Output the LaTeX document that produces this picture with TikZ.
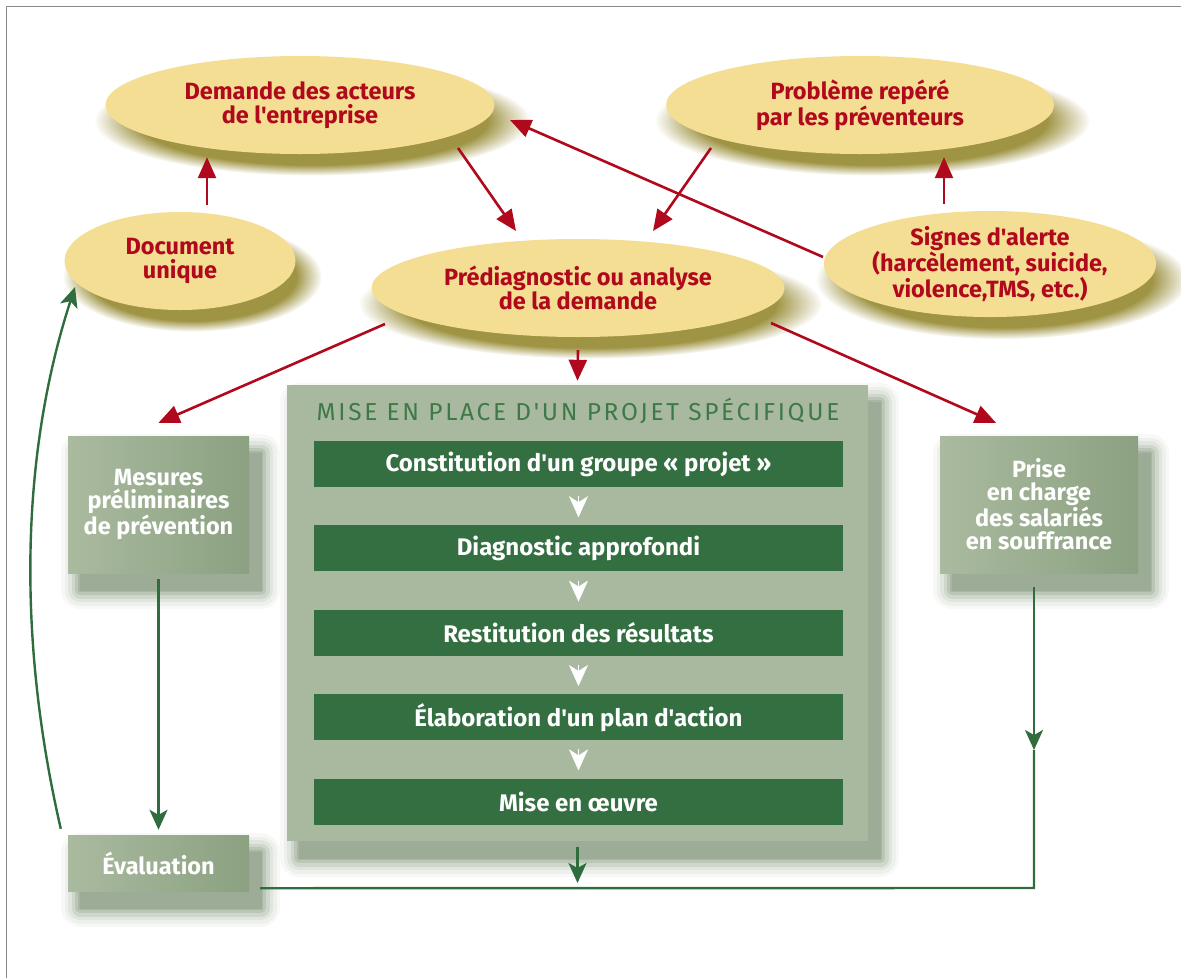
\documentclass[tikz,border=0pt]{standalone}
\usepackage{fontspec}
\newfontfamily\diagfont{Fira Sans}
\newfontfamily\titlefont[LetterSpace=11]{Fira Sans}
\usetikzlibrary{shapes.geometric,positioning,arrows.meta,shadows,fadings}

\definecolor{bubblefill}{HTML}{F3DE93}
\definecolor{bubbleshade}{HTML}{9F9444}
\definecolor{alertred}{HTML}{B0081C}
\definecolor{bargreen}{HTML}{346F41}
\definecolor{linegreen}{HTML}{2F6C3E}
\definecolor{titlegreen}{HTML}{3D7A48}
\definecolor{panelfill}{HTML}{A9B99F}
\definecolor{boxlight}{HTML}{AABA9F}
\definecolor{boxdark}{HTML}{8BA181}
\definecolor{boxshade}{HTML}{6A8160}
\definecolor{framegray}{HTML}{8A8A8A}

\begin{document}
\begin{tikzpicture}[
x=1pt,y=-1pt,
bubble/.style={ellipse,inner sep=0pt,fill=bubblefill,text=alertred,align=center,
  font=\diagfont\bfseries\fontsize{23.5}{24}\selectfont,
  general shadow={fill=bubbleshade,shadow scale=1.12,shadow xshift=11pt,shadow yshift=-14pt,
    path fading=circle with fuzzy edge 20 percent}},
shadow layer/.style args={#1/#2/#3}{general shadow={fill=#1!#2,draw=#1!#2,line join=round,
  line width=#3,shadow xshift=12pt,shadow yshift=-17pt}},
soft shadow/.style={shadow layer=#1/5/38pt,shadow layer=#1/12/31pt,shadow layer=#1/21/24pt,
  shadow layer=#1/32/17pt,shadow layer=#1/45/10pt,shadow layer=#1/58/4pt,shadow layer=#1/66/.1pt},
sagebox/.style={rectangle,inner sep=0pt,left color=boxlight,right color=boxdark,
  text=white,align=center,font=\diagfont\bfseries\fontsize{23.5}{23}\selectfont,soft shadow=boxshade},
panel/.style={rectangle,inner sep=0pt,fill=panelfill,soft shadow=boxshade},
paneltitle/.style={text=titlegreen,font=\titlefont\fontsize{24.5}{26}\selectfont},
stepbar/.style={rectangle,fill=bargreen,text=white,minimum width=529pt,minimum height=46pt,
  inner sep=0pt,font=\diagfont\bfseries\fontsize{24}{26}\selectfont},
redarrow/.style={draw=alertred,line width=2.6pt,-{Triangle[length=21pt,width=18pt]}},
greenline/.style={draw=linegreen,line width=2.4pt},
greenarrow/.style={greenline,-{Stealth[length=20pt,width=18pt,inset=5pt]}},
whitetip/.style={draw=white,line width=.4pt,shorten <=9pt,shorten >=8pt,
  -{Stealth[length=21pt,width=19pt,inset=6pt,fill=white]}}
]
\useasboundingbox (0,0) rectangle (1181,978);
\draw[framegray,line width=1.5pt] (6.5,978) -- (6.5,6.5) -- (1181,6.5);

% bubbles
\node[bubble,minimum width=389pt,minimum height=98pt] (demande) at (300,105) {Demande des acteurs\\de l'entreprise};
\node[bubble,minimum width=388pt,minimum height=98pt] (probleme) at (860,105) {Problème repéré\\par les préventeurs};
\node[bubble,minimum width=231pt,minimum height=98pt] (docunique) at (180,261) {Document\\unique};
\node[bubble,minimum width=413pt,minimum height=98pt] (prediag) at (578,288) {Prédiagnostic ou analyse\\de la demande};
\node[bubble,minimum width=302pt,minimum height=104pt,font=\diagfont\bfseries\fontsize{23.5}{23}\selectfont] (signes) at (990,264) {Signes d'alerte\\(harcèlement, suicide,\\violence,TMS, etc.)};

% boxes
\node[panel,minimum width=581pt,minimum height=456pt] (panel) at (577.5,613) {};
\node[paneltitle] (title) at (578,411) {MISE EN PLACE D'UN PROJET SPÉCIFIQUE};
\node[sagebox,minimum width=181pt,minimum height=137pt] (mesures) at (158.5,504.5) {Mesures\\préliminaires\\de prévention};
\node[sagebox,minimum width=198pt,minimum height=137pt] (prise) at (1039,504.5) {Prise\\en charge\\des salariés\\en souffrance};
\node[sagebox,minimum width=181pt,minimum height=56pt] (evaluation) at (158.5,863) {Évaluation};

\node[stepbar] (bar1) at (578.5,464) {Constitution d'un groupe « projet »};
\foreach \t[count=\i from 2,remember=\i as \p (initially 1)] in {Diagnostic approfondi,Restitution des résultats,Élaboration d'un plan d'action,Mise en œuvre}{
\node[stepbar,below=38pt of bar\p] (bar\i) {\t};
\draw[whitetip] (bar\p.south) -- (bar\i.north);
}

% red arrows
\draw[redarrow] ([xshift=27pt,yshift=7pt]docunique.north) -- ([xshift=-93pt,yshift=-3pt]demande.south);
\draw[redarrow] ([xshift=-46pt,yshift=7pt]signes.north) -- ([xshift=84pt,yshift=-3pt]probleme.south);
\draw[redarrow] ([xshift=158pt,yshift=-43pt]demande.center) -- ([xshift=-62pt,yshift=57pt]prediag.center);
\draw[redarrow] ([xshift=-149pt,yshift=-43pt]probleme.center) -- ([xshift=75pt,yshift=57pt]prediag.center);
\draw[redarrow] ([xshift=-167pt,yshift=7pt]signes.center) -- ([xshift=210pt,yshift=-15pt]demande.center);
\draw[redarrow] ([yshift=-13pt]prediag.south) -- ([yshift=4pt]panel.north);
\draw[redarrow] ([xshift=-193pt,yshift=-36pt]prediag.center) -- ([yshift=13pt]mesures.north);
\draw[redarrow] ([xshift=193pt,yshift=-35pt]prediag.center) -- ([xshift=-43pt,yshift=13pt]prise.north);

% green arrows
\coordinate (corner) at (1034,888);
\coordinate (midway) at (1034,750);
\draw[greenarrow] ([yshift=-6pt]mesures.south) -- ([yshift=5pt]evaluation.north);
\draw[greenarrow] ([xshift=-7pt,yshift=6pt]evaluation.north west) to[out=103,in=252,looseness=.87] ([xshift=-105pt,yshift=-26pt]docunique.center);
\draw[greenarrow] ([xshift=-5pt,yshift=-14pt]prise.south) -- (midway);
\draw[greenline] (midway) -- (corner) -- ([xshift=11pt,yshift=3pt]evaluation.south east);
\draw[greenarrow,shorten >=5pt] ([yshift=-6pt]panel.south) -- (panel.south |- corner);

\end{tikzpicture}
\end{document}
